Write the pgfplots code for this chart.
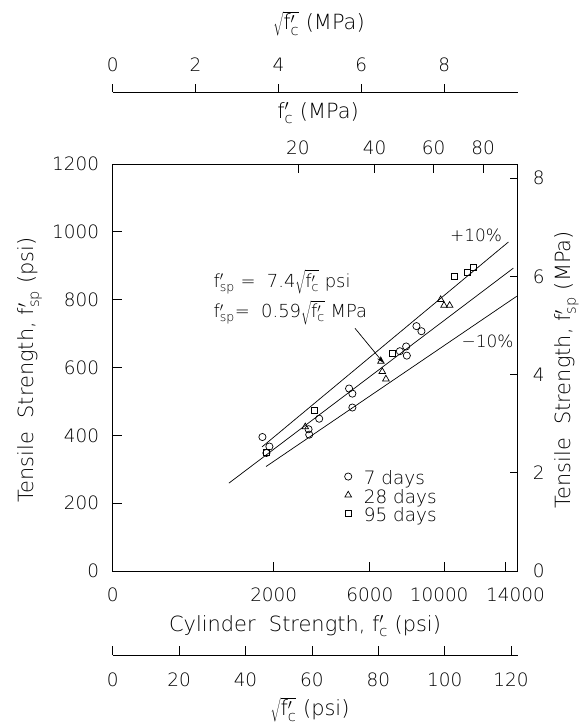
\documentclass[border=0pt]{standalone}
\usepackage{fontspec}
\IfFontExistsTF{DejaVu Sans ExtraLight}{\setmainfont{DejaVu Sans ExtraLight}}{\setmainfont{DejaVu Sans}}
\usepackage{pgfplots}
\pgfplotsset{compat=1.18}
\usetikzlibrary{arrows.meta}
\newcommand{\tf}{\fontsize{18.5}{22}\selectfont}
\newcommand{\ef}{\fontsize{18}{21}\selectfont}
\newcommand{\af}{\fontsize{17}{20}\selectfont}
\newcommand{\lf}{\fontsize{21}{25}\selectfont}
\newcommand{\fc}{\mathrm{f}'_{\mathrm{c}}}
\newcommand{\fsp}{\mathrm{f}'_{\mathrm{sp}}}
\pgfplotsset{
  common/.style={scale only axis, clip=false,
    axis line style={line width=0.7bp, black},
    tick style={line width=0.7bp, black},
    /pgf/number format/assume math mode=true,
    /pgf/number format/1000 sep={},
    ticklabel style={font=\tf},
  },
  mylegimg/.style={legend image code/.code={\draw[##1] plot coordinates {(0bp,2bp)};}},
}
\begin{document}
\begin{tikzpicture}[x=1bp,y=1bp]
\useasboundingbox (-112.7bp,-157bp) rectangle (468.3bp,571bp);

% top sqrt(f'c) MPa scale
\begin{axis}[common, at={(0bp,479bp)}, anchor=south west, width=405bp, height=10bp,
  xmin=0, xmax=9.775, ymin=0, ymax=1, hide y axis, axis x line*=bottom,
  tick align=inside, major tick length=8bp, xtick={0,2,4,6,8},
  xticklabel style={anchor=base, yshift=20.3bp}]
\end{axis}

% lower sqrt(f'c) psi scale
\begin{axis}[common, at={(0bp,-84bp)}, anchor=south west, width=405bp, height=10bp,
  xmin=0, xmax=122, ymin=0, ymax=1, hide y axis, axis x line*=bottom,
  tick align=inside, major tick length=9bp, xtick={0,20,...,120},
  xticklabel style={anchor=base, yshift=-31.5bp}]
\end{axis}

% top f'c MPa scale on main box
\begin{axis}[common, at={(0bp,0bp)}, anchor=south west, width=405bp, height=407bp,
  xmin=0, xmax=122, ymin=0, ymax=1, hide y axis, axis x line*=top,
  tick align=inside, major tick length=9bp,
  xtick={55.8,78.9,96.7,111.6}, xticklabels={20,40,60,80},
  xticklabel style={anchor=base, yshift=9.5bp}]
\end{axis}

% right MPa scale
\begin{axis}[common, at={(0bp,0bp)}, anchor=south west, width=405bp, height=407bp,
  xmin=0, xmax=122, ymin=0, ymax=8.29, hide x axis, axis y line*=right,
  tick align=inside, major tick length=8bp, ytick={0,2,4,6,8},
  yticklabel style={anchor=west, inner sep=0pt, xshift=15bp}]
\end{axis}

% main axis
\begin{axis}[common, at={(0bp,0bp)}, anchor=south west, width=405bp, height=407bp,
  xmin=0, xmax=122, ymin=0, ymax=1200,
  tick pos=left, tick align=inside, major tick length=9bp,
  xtick={0,48.5,77.46,100,118.32},
  xticklabels={0,2000,6000,{\kern-11bp 10000},{14000\kern-20bp}},
  ytick={0,200,...,1200},
  xticklabel style={anchor=base, yshift=-30.5bp},
  yticklabel style={anchor=east, inner sep=0pt, xshift=-13.5bp},
  legend cell align=left,
  legend style={at={(axis cs:69.8,296)}, anchor=north west, draw=none, fill=none,
    font=\tf, inner sep=0pt, row sep=3bp, column sep=12bp,
    nodes={inner sep=0pt}},
]
\addplot[black, line width=0.7bp, forget plot] coordinates {(35,259) (120.7,893)};
\addplot[black, line width=0.7bp, forget plot] coordinates {(45,366) (119.2,970)};
\addplot[black, line width=0.7bp, forget plot] coordinates {(46.2,308) (121.7,810)};

\addplot[only marks, mark=o, mark size=3.6bp, mark options={line width=0.7bp, black}, mylegimg]
coordinates {
(45.1,395) (47.2,367) (46.3,348) (59.0,418) (59.2,402) (62.2,449)
(71.2,538) (72.2,523) (72.2,482) (86.5,648) (88.4,662) (88.6,635)
(91.5,722) (93.0,707)
};
\addlegendentry{7 days}
\addplot[only marks, mark=triangle, mark size=3.8bp, mark options={line width=0.7bp, black}, mylegimg]
coordinates {
(58.0,425) (80.8,618) (81.2,588) (82.3,566) (98.8,800) (99.8,783) (101.5,783)
};
\addlegendentry{28 days}
\addplot[only marks, mark=square, mark size=3.0bp, mark options={line width=0.7bp, black}, mylegimg]
coordinates {
(60.6,474) (46.3,350) (84.2,642) (103.0,868) (106.8,882) (108.5,895)
};
\addlegendentry{95 days}
\end{axis}

\node[font=\lf] at (206.3bp,547bp) {$\sqrt{\fc}$ (MPa)};
\node[font=\lf] at (205.3bp,458bp) {$\fc$ (MPa)};
\node[font=\lf] at (192.3bp,-55bp) {Cylinder\ \ Strength, $\fc$ (psi)};
\node[font=\lf] at (197.3bp,-139bp) {$\sqrt{\fc}$ (psi)};
\node[font=\lf, rotate=90] at (-82.7bp,201bp) {Tensile\ \ Strength, $\fsp$ (psi)};
\node[font=\lf, rotate=90] at (454bp,201bp) {Tensile\ \ Strength, $\fsp$ (MPa)};
\node[font=\af] at (363.3bp,336bp) {+10\%};
\node[font=\af] at (374.8bp,229.3bp) {−10\%};
\node[font=\ef, anchor=west, inner sep=0pt] at (100.6bp,289bp) {$\fsp$ =\ \ 7.4$\sqrt{\fc}$ psi};
\node[font=\ef, anchor=west, inner sep=0pt] at (100.6bp,258.5bp) {$\fsp$=\ \ 0.59$\sqrt{\fc}$ MPa};
\draw[line width=0.7bp, -{Stealth[length=7bp,width=4.5bp]}] (242.3bp,242.7bp) -- (270.6bp,208.3bp);
\end{tikzpicture}
\end{document}
